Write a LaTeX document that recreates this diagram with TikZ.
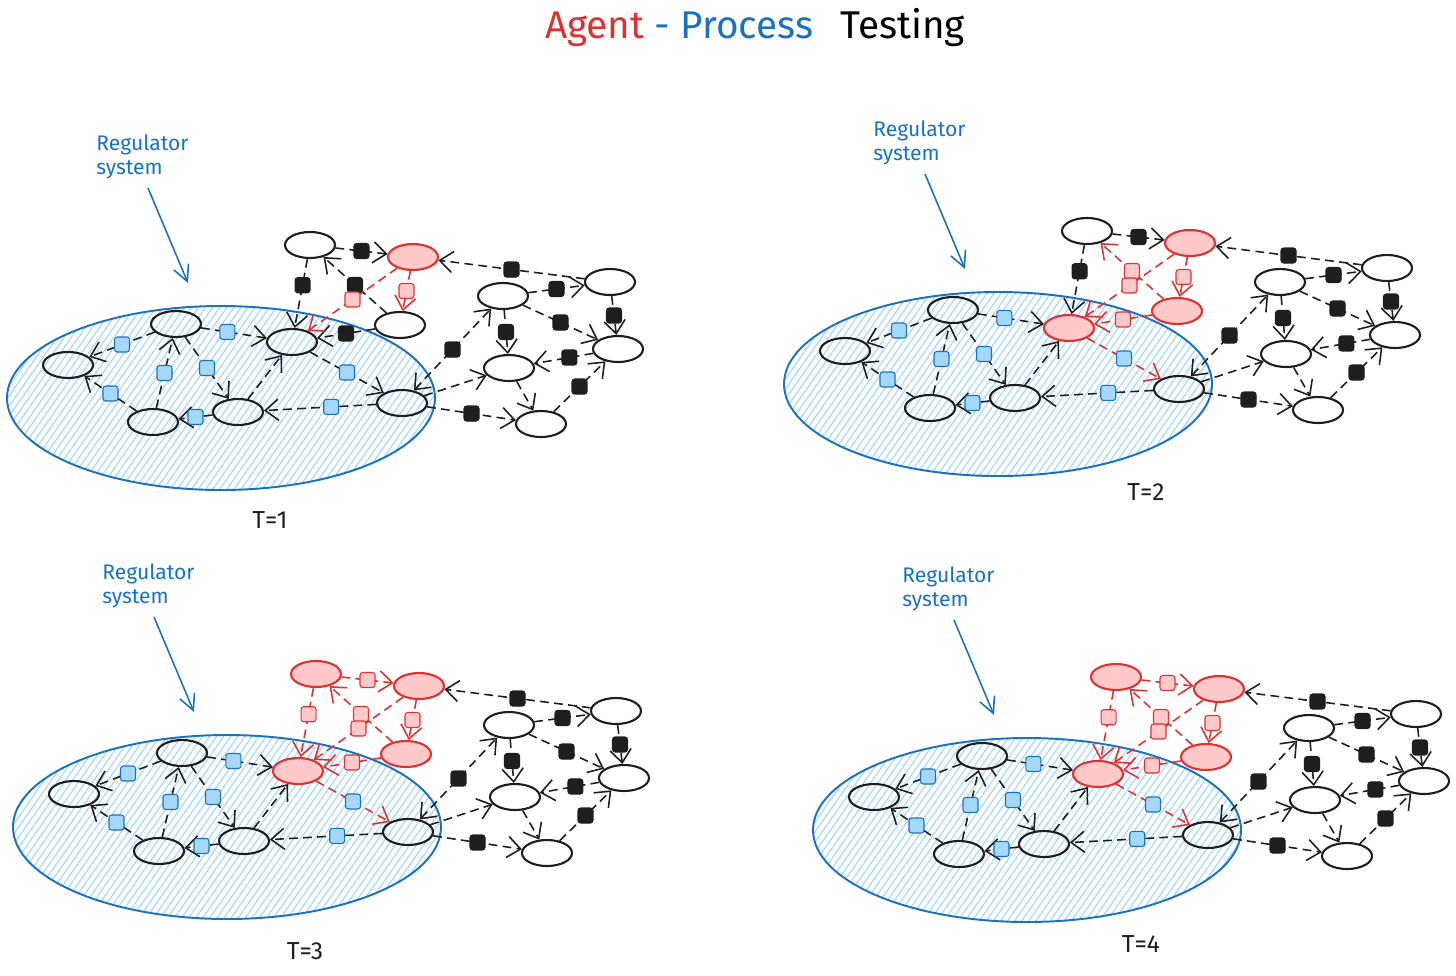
\documentclass[tikz,border=0pt]{standalone}
\usepackage{fontspec}
\setmainfont{Fira Sans}
\usetikzlibrary{arrows.meta,shapes.geometric,patterns.meta}
\definecolor{agentred}{HTML}{E03131}
\definecolor{agentfill}{HTML}{FFC9C9}
\definecolor{procblue}{HTML}{1971C2}
\definecolor{hatchblue}{HTML}{A5D8FF}
\definecolor{ink}{HTML}{1E1E1E}
\tikzset{>={Straight Barb[length=7.5pt,width=12pt]},
  knode/.style={ellipse,draw=ink,line width=1.2pt,minimum width=1cm,minimum height=0.52cm,inner sep=0pt},
  rnode/.style={knode,draw=agentred,fill=agentfill},
  klink/.style={->,draw=ink,line width=0.9pt,dash pattern=on 5pt off 3pt},
  rlink/.style={klink,draw=agentred},
  sq/.style={rectangle,solid,rounded corners=1.5pt,minimum size=0.3cm,inner sep=0pt,line width=0.6pt},
  bsq/.style={sq,draw=procblue,fill=hatchblue},ksq/.style={sq,draw=ink,fill=ink},rsq/.style={sq,draw=agentred,fill=agentfill},
  region/.style={draw=procblue,line width=1.1pt,pattern={Lines[angle=55,distance=3.3pt,line width=0.7pt]},pattern color=hatchblue},
  lbl/.style={text=procblue,font=\fontsize{12}{14}\selectfont,align=left,anchor=north west,inner sep=0pt},
  lblarr/.style={draw=procblue,line width=0.9pt,-{Straight Barb[length=9pt,width=9pt]}},
  tlbl/.style={text=ink,font=\fontsize{14}{16}\selectfont}}
% #1 panel prefix, #2 #3 #4: colour (k or r) of nodes e, g, i
\newcommand{\drawnet}[4]{%
  \draw[region] (221,398) ellipse [x radius=214,y radius=92];
  \node[lbl] (#1lbl) at (96,134) {Regulator\\system};
  \coordinate (#1tail) at (148,188); \coordinate (#1tip) at (188,283);
  \draw[lblarr] (#1tail) -- (#1tip);
  \node[knode] (#1a) at (68,365) {}; \node[knode] (#1b) at (176,324) {}; \node[knode] (#1c) at (153,422) {};
  \node[knode] (#1d) at (238,412) {}; \node[#2node] (#1e) at (292,342) {}; \node[knode] (#1f) at (402,403) {};
  \node[#3node] (#1g) at (310,245) {}; \node[rnode] (#1h) at (413,257) {}; \node[#4node] (#1i) at (400,325) {};
  \node[knode] (#1j) at (610,282) {}; \node[knode] (#1k) at (503,296) {}; \node[knode] (#1l) at (618,349) {};
  \node[knode] (#1m) at (509,368) {}; \node[knode] (#1n) at (541,424) {};
  \draw[klink] (#1b) -- node[bsq]{} (#1a); \draw[klink] (#1c) -- node[bsq]{} (#1a);
  \draw[klink] (#1c) -- node[bsq]{} (#1b); \draw[klink] (#1b) -- node[bsq]{} (#1d);
  \draw[klink] (#1b) -- node[bsq,pos=0.4]{} (#1e); \draw[klink] (#1d) -- (#1e);
  \draw[#2link] (#1e) -- node[bsq]{} (#1f); \draw[klink] (#1f) -- node[bsq,pos=0.4]{} (#1d);
  \draw[klink] (#1d) -- node[bsq]{} (#1c);
  \draw[#3link] (#1g) -- node[#3sq,pos=0.38]{} (#1e); \draw[#3link] (#1g) -- node[#3sq]{} (#1h);
  \draw[#4link] (#1i) -- node[#4sq]{} (#1g); \draw[#4link] (#1i) -- node[#4sq]{} (#1e);
  \draw[rlink] (#1h) -- node[rsq]{} (#1e); \draw[rlink] (#1h) -- node[rsq]{} (#1i);
  \draw[klink] (#1j) -- node[ksq]{} (#1h); \draw[klink,<->] (#1f) -- node[ksq]{} (#1k);
  \draw[klink] (#1f) -- (#1m); \draw[klink] (#1f) -- node[ksq]{} (#1n);
  \draw[klink] (#1k) -- node[ksq]{} (#1j); \draw[klink] (#1k) -- node[ksq]{} (#1m);
  \draw[klink] (#1k) -- node[ksq]{} (#1l); \draw[klink] (#1j) -- node[ksq]{} (#1l);
  \draw[klink] (#1l) -- node[ksq,pos=0.4]{} (#1m); \draw[klink] (#1m) -- (#1n);
  \draw[klink] (#1n) -- node[ksq]{} (#1l);}
\begin{document}
\begin{tikzpicture}[x=0.02cm,y=-0.02cm]
\useasboundingbox (0,0) rectangle (1456,975);
\node (title) at (755,28) {\fontsize{22}{26}\selectfont\textcolor{agentred}{Agent} \textcolor{procblue}{- Process}\hspace{0.7em}Testing};
\drawnet{p1}{k}{k}{k}
\begin{scope}[shift={(777,-14)}]\drawnet{p2}{r}{k}{r}\end{scope}
\begin{scope}[shift={(6,429)}]\drawnet{p3}{r}{r}{r}\end{scope}
\begin{scope}[shift={(806,432)}]\drawnet{p4}{r}{r}{r}\end{scope}
\node[tlbl] (time1) at (270,520) {T=1}; \node[tlbl] (time2) at (1146,492) {T=2};
\node[tlbl] (time3) at (305,951) {T=3}; \node[tlbl] (time4) at (1141,944) {T=4};
\end{tikzpicture}
\end{document}
